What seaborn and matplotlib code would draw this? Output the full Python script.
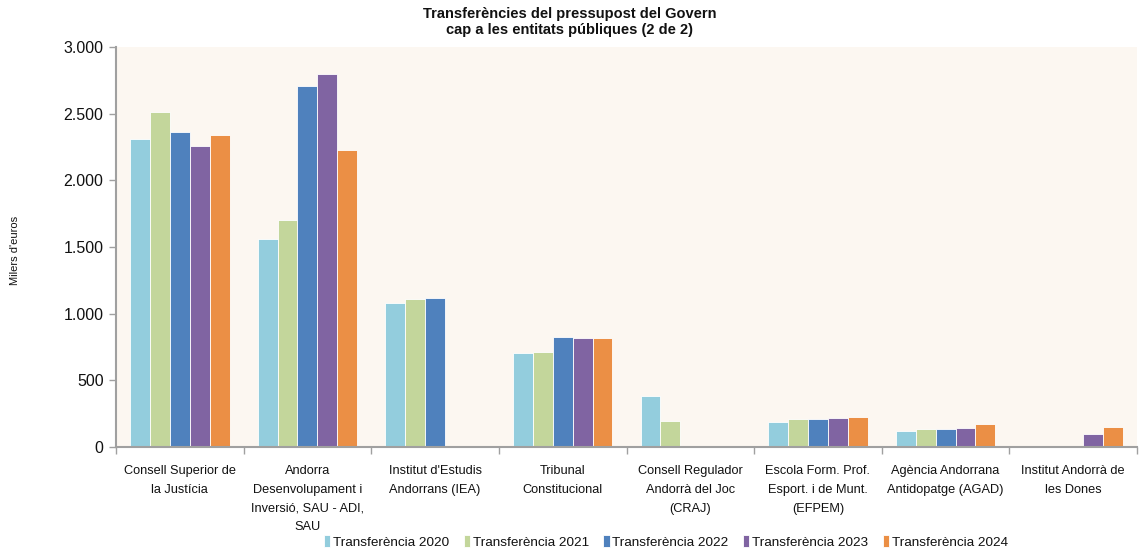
import matplotlib
matplotlib.use("Agg")
import matplotlib.pyplot as plt
import matplotlib.ticker as mticker
import seaborn as sns
import pandas as pd
import numpy as np

categories = [
    "Consell Superior de\nla Justícia",
    "Andorra\nDesenvolupament i\nInversió, SAU - ADI,\nSAU",
    "Institut d'Estudis\nAndorrans (IEA)",
    "Tribunal\nConstitucional",
    "Consell Regulador\nAndorrà del Joc\n(CRAJ)",
    "Escola Form. Prof.\nEsport. i de Munt.\n(EFPEM)",
    "Agència Andorrana\nAntidopatge (AGAD)",
    "Institut Andorrà de\nles Dones",
]
series = ["Transferència 2020", "Transferència 2021", "Transferència 2022",
          "Transferència 2023", "Transferència 2024"]
t2020 = [2310, 1560, 1077, 703, 380, 187, 122, np.nan]
t2021 = [2512, 1700, 1110, 712, 195, 207, 132, np.nan]
t2022 = [2362, 2707, 1120, 828, np.nan, 207, 132, np.nan]
t2023 = [2257, 2797, np.nan, 818, np.nan, 217, 142, 100]
t2024 = [2343, 2225, np.nan, 818, np.nan, 227, 175, 152]
colors = ["#93CDDD", "#C3D69B", "#4F81BD", "#8064A2", "#EB8F45"]

rows = []
for s, vals in zip(series, [t2020, t2021, t2022, t2023, t2024]):
    for c, v in zip(categories, vals):
        rows.append({"cat": c, "serie": s, "val": v})
df = pd.DataFrame(rows)

sns.set_theme(style="white")
plt.rcParams['font.family'] = ['Liberation Sans', 'DejaVu Sans']
plt.rcParams['text.color'] = '#111111'
plt.rcParams['xtick.color'] = '#111111'
plt.rcParams['ytick.color'] = '#111111'

fig = plt.figure(figsize=(11.41, 5.56), dpi=100)
ax = fig.add_axes([116/1141, 1-447/556, (1137-116)/1141, 400/556])
ax.set_facecolor("#FCF7F1")

sns.barplot(data=df, x="cat", y="val", hue="serie", order=categories,
            hue_order=series, palette=colors, width=0.78, gap=0,
            edgecolor="#FFFFFF", linewidth=0.6, ax=ax, errorbar=None, saturation=1)

ax.set_xlim(-0.5, len(categories) - 0.5)
ax.set_ylim(0, 3000)
ax.yaxis.set_major_locator(mticker.MultipleLocator(500))
ax.yaxis.set_major_formatter(mticker.FuncFormatter(lambda v, p: f"{int(v):,}".replace(",", ".")))
ax.tick_params(axis="y", labelsize=11.5, length=5, width=1, color="#A0A0A0", labelcolor="#111111", left=True, pad=4)
ax.tick_params(axis="x", which="major", length=0, labelsize=9.2, labelcolor="#111111", pad=13)
ax.set_xticks(np.arange(-0.5, len(categories), 1.0), minor=True)
ax.tick_params(axis="x", which="minor", length=5, width=1, color="#A0A0A0", bottom=True)
for lab in ax.get_xticklabels():
    lab.set_linespacing(1.75)

for side in ["top", "right"]:
    ax.spines[side].set_visible(False)
for side in ["left", "bottom"]:
    ax.spines[side].set_color("#A0A0A0")
    ax.spines[side].set_linewidth(1.5)

ax.set_xlabel("")
ax.set_ylabel("")
fig.text(15/1141, 1-250/556, "Milers d'euros", rotation=90, ha="center", va="center",
         fontsize=8, family=["Liberation Sans", "DejaVu Sans"])
fig.text(570/1141, 1-22/556, "Transferències del pressupost del Govern\ncap a les entitats públiques (2 de 2)",
         ha="center", va="center", fontsize=10.5, fontweight="bold", linespacing=1.1)

leg = ax.legend(loc="center", bbox_to_anchor=((666-116)/1021, (447-542)/400), ncol=5, frameon=False,
                fontsize=9.7, handlelength=0.45, handleheight=0.9, handletextpad=0.2, columnspacing=1.1)

fig.savefig("out.png", dpi=100)
